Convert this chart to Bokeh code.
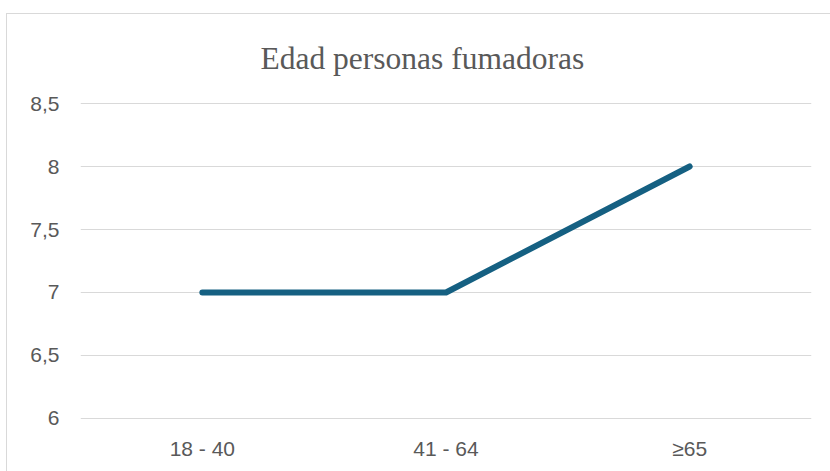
from bokeh.plotting import figure
from bokeh.models import Range1d, FixedTicker
from bokeh.embed import file_html
from bokeh.resources import INLINE

# Data
categories = ["18 - 40", "41 - 64", "≥65"]
values = [7, 7, 8]
y_ticks = [6, 6.5, 7, 7.5, 8, 8.5]
y_tick_labels = ["6", "6,5", "7", "7,5", "8", "8,5"]
title_text = "Edad personas fumadoras"

x_pos = list(range(len(categories)))
y_pad = 0.008  # tiny padding so the top/bottom gridlines are not clipped

p = figure(width=825, height=462, output_backend="svg", toolbar_location=None,
           x_range=Range1d(-0.5, len(categories) - 0.5),
           y_range=Range1d(y_ticks[0] - y_pad, y_ticks[-1] + y_pad),
           min_border_left=73, min_border_right=21, min_border_top=88, min_border_bottom=57,
           title=title_text)
p.styles = {"border": "1px solid #d9d9d9", "margin-left": "6px", "margin-top": "13px"}

p.title.align = "left"
p.title.vertical_align = "top"
p.title.offset = 180
p.title.standoff = 50
p.title.text_font = "Liberation Serif"
p.title.text_font_size = "31.5px"
p.title.text_font_style = "normal"
p.title.text_color = "#595959"

p.line(x_pos, values, line_color="#156082", line_width=6, line_cap="round", line_join="round")

p.outline_line_color = None
p.xgrid.grid_line_color = None
p.ygrid.grid_line_color = "#d9d9d9"
p.ygrid.grid_line_width = 1

p.yaxis.ticker = FixedTicker(ticks=y_ticks)
p.yaxis.major_label_overrides = {t: l for t, l in zip(y_ticks, y_tick_labels)}
p.xaxis.ticker = FixedTicker(ticks=x_pos)
p.xaxis.major_label_overrides = {i: c for i, c in zip(x_pos, categories)}

for ax in (p.xaxis, p.yaxis):
    ax.axis_line_color = None
    ax.major_tick_line_color = None
    ax.minor_tick_line_color = None
    ax.major_label_text_font = "Liberation Sans"
    ax.major_label_text_font_size = "21px"
    ax.major_label_text_color = "#595959"
p.yaxis.major_label_standoff = 15
p.xaxis.major_label_standoff = 11

open("out.html", "w").write(file_html(p, INLINE))
